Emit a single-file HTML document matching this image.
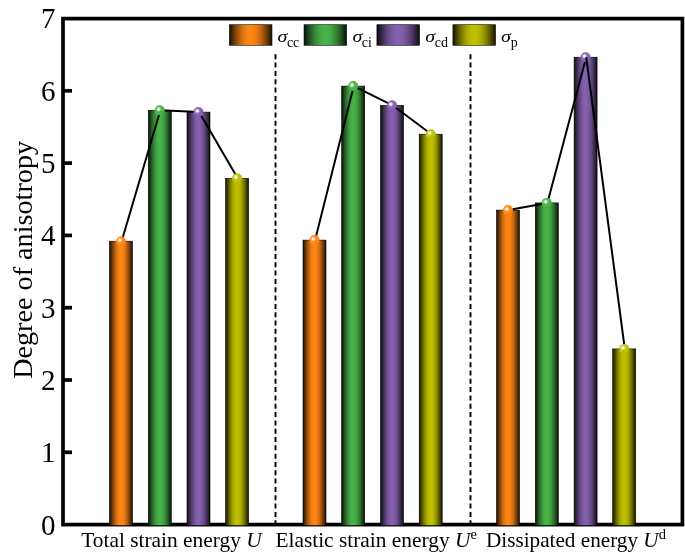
<!DOCTYPE html>
<html lang="en">
<head>
<meta charset="utf-8">
<title>Degree of anisotropy</title>
<style>
html,body{margin:0;padding:0;background:#fff;}
body{width:685px;height:559px;overflow:hidden;}
svg{display:block;}
text{font-family:"Liberation Serif","Times New Roman",serif;fill:#000;}
.tick{font-size:29px;text-anchor:end;}
.xl{font-size:21.2px;}
.yl{font-size:28.2px;text-anchor:middle;}
.lg{font-size:20px;}
.sub{font-size:14px;}
.it{font-style:italic;}
</style>
</head>
<body>
<svg width="685" height="559" viewBox="0 0 685 559">
<defs>
<linearGradient id="go" x1="0" x2="1" y1="0" y2="0"><stop offset="0.0000" stop-color="#1a0d02"/><stop offset="0.0625" stop-color="#462506"/><stop offset="0.1250" stop-color="#713c09"/><stop offset="0.1875" stop-color="#99500c"/><stop offset="0.2500" stop-color="#bc630f"/><stop offset="0.3125" stop-color="#d87211"/><stop offset="0.3750" stop-color="#ee7d13"/><stop offset="0.4375" stop-color="#fb8414"/><stop offset="0.5000" stop-color="#ff8614"/><stop offset="0.5625" stop-color="#fb8414"/><stop offset="0.6250" stop-color="#ee7d13"/><stop offset="0.6875" stop-color="#d87211"/><stop offset="0.7500" stop-color="#bc630f"/><stop offset="0.8125" stop-color="#99500c"/><stop offset="0.8750" stop-color="#713c09"/><stop offset="0.9375" stop-color="#462506"/><stop offset="1.0000" stop-color="#1a0d02"/></linearGradient>
<linearGradient id="gg" x1="0" x2="1" y1="0" y2="0"><stop offset="0.0000" stop-color="#071207"/><stop offset="0.0625" stop-color="#143114"/><stop offset="0.1250" stop-color="#205020"/><stop offset="0.1875" stop-color="#2b6b2b"/><stop offset="0.2500" stop-color="#358435"/><stop offset="0.3125" stop-color="#3d983d"/><stop offset="0.3750" stop-color="#43a743"/><stop offset="0.4375" stop-color="#47b047"/><stop offset="0.5000" stop-color="#48b348"/><stop offset="0.5625" stop-color="#47b047"/><stop offset="0.6250" stop-color="#43a743"/><stop offset="0.6875" stop-color="#3d983d"/><stop offset="0.7500" stop-color="#358435"/><stop offset="0.8125" stop-color="#2b6b2b"/><stop offset="0.8750" stop-color="#205020"/><stop offset="0.9375" stop-color="#143114"/><stop offset="1.0000" stop-color="#071207"/></linearGradient>
<linearGradient id="gp" x1="0" x2="1" y1="0" y2="0"><stop offset="0.0000" stop-color="#0d0a12"/><stop offset="0.0625" stop-color="#251b30"/><stop offset="0.1250" stop-color="#3b2b4e"/><stop offset="0.1875" stop-color="#503a69"/><stop offset="0.2500" stop-color="#624781"/><stop offset="0.3125" stop-color="#715294"/><stop offset="0.3750" stop-color="#7c5aa3"/><stop offset="0.4375" stop-color="#835fac"/><stop offset="0.5000" stop-color="#8561af"/><stop offset="0.5625" stop-color="#835fac"/><stop offset="0.6250" stop-color="#7c5aa3"/><stop offset="0.6875" stop-color="#715294"/><stop offset="0.7500" stop-color="#624781"/><stop offset="0.8125" stop-color="#503a69"/><stop offset="0.8750" stop-color="#3b2b4e"/><stop offset="0.9375" stop-color="#251b30"/><stop offset="1.0000" stop-color="#0d0a12"/></linearGradient>
<linearGradient id="gy" x1="0" x2="1" y1="0" y2="0"><stop offset="0.0000" stop-color="#131300"/><stop offset="0.0625" stop-color="#353500"/><stop offset="0.1250" stop-color="#555500"/><stop offset="0.1875" stop-color="#737300"/><stop offset="0.2500" stop-color="#8d8d00"/><stop offset="0.3125" stop-color="#a3a300"/><stop offset="0.3750" stop-color="#b3b300"/><stop offset="0.4375" stop-color="#bdbd00"/><stop offset="0.5000" stop-color="#c0c000"/><stop offset="0.5625" stop-color="#bdbd00"/><stop offset="0.6250" stop-color="#b3b300"/><stop offset="0.6875" stop-color="#a3a300"/><stop offset="0.7500" stop-color="#8d8d00"/><stop offset="0.8125" stop-color="#737300"/><stop offset="0.8750" stop-color="#555500"/><stop offset="0.9375" stop-color="#353500"/><stop offset="1.0000" stop-color="#131300"/></linearGradient>
<radialGradient id="so" cx="0.38" cy="0.39" r="0.64"><stop offset="0" stop-color="#fff"/><stop offset="0.13" stop-color="#fff9f3"/><stop offset="0.28" stop-color="#ffbc7e"/><stop offset="0.42" stop-color="#ff8d22"/><stop offset="0.8" stop-color="#ff8614"/><stop offset="1" stop-color="#eb7b12"/></radialGradient>
<radialGradient id="sg" cx="0.38" cy="0.39" r="0.64"><stop offset="0" stop-color="#fff"/><stop offset="0.13" stop-color="#f6fbf6"/><stop offset="0.28" stop-color="#9ad59a"/><stop offset="0.42" stop-color="#53b853"/><stop offset="0.8" stop-color="#48b348"/><stop offset="1" stop-color="#42a542"/></radialGradient>
<radialGradient id="sp" cx="0.38" cy="0.39" r="0.64"><stop offset="0" stop-color="#fff"/><stop offset="0.13" stop-color="#f9f7fb"/><stop offset="0.28" stop-color="#bca8d3"/><stop offset="0.42" stop-color="#8c6ab4"/><stop offset="0.8" stop-color="#8561af"/><stop offset="1" stop-color="#7a59a1"/></radialGradient>
<radialGradient id="sy" cx="0.38" cy="0.39" r="0.64"><stop offset="0" stop-color="#fff"/><stop offset="0.13" stop-color="#fcfcf2"/><stop offset="0.28" stop-color="#dcdc73"/><stop offset="0.42" stop-color="#c4c40f"/><stop offset="0.8" stop-color="#c0c000"/><stop offset="1" stop-color="#b1b100"/></radialGradient>
</defs>
<rect x="0" y="0" width="685" height="559" fill="#fff"/>
<rect x="63.0" y="18.6" width="619.4" height="506.0" fill="none" stroke="#000" stroke-width="3.7"/>
<line x1="63.0" x2="72.0" y1="452.3" y2="452.3" stroke="#000" stroke-width="3.7"/>
<line x1="63.0" x2="72.0" y1="380.0" y2="380.0" stroke="#000" stroke-width="3.7"/>
<line x1="63.0" x2="72.0" y1="307.7" y2="307.7" stroke="#000" stroke-width="3.7"/>
<line x1="63.0" x2="72.0" y1="235.4" y2="235.4" stroke="#000" stroke-width="3.7"/>
<line x1="63.0" x2="72.0" y1="163.1" y2="163.1" stroke="#000" stroke-width="3.7"/>
<line x1="63.0" x2="72.0" y1="90.8" y2="90.8" stroke="#000" stroke-width="3.7"/>
<text class="tick" x="55.5" y="534.5">0</text>
<text class="tick" x="55.5" y="462.2">1</text>
<text class="tick" x="55.5" y="389.9">2</text>
<text class="tick" x="55.5" y="317.6">3</text>
<text class="tick" x="55.5" y="245.3">4</text>
<text class="tick" x="55.5" y="173.0">5</text>
<text class="tick" x="55.5" y="100.7">6</text>
<text class="tick" x="55.5" y="28.4">7</text>
<line x1="275.5" x2="275.5" y1="54.3" y2="524.6" stroke="#000" stroke-width="1.9" stroke-dasharray="5 3.32"/>
<line x1="470.5" x2="470.5" y1="54.3" y2="524.6" stroke="#000" stroke-width="1.9" stroke-dasharray="5 3.32"/>
<rect x="109.5" y="241.2" width="23.0" height="284.4" fill="url(#go)" stroke="#000" stroke-width="0.6"/>
<rect x="148.3" y="110.3" width="23.0" height="415.3" fill="url(#gg)" stroke="#000" stroke-width="0.6"/>
<rect x="187.0" y="112.1" width="23.0" height="413.5" fill="url(#gp)" stroke="#000" stroke-width="0.6"/>
<rect x="225.6" y="178.3" width="23.0" height="347.3" fill="url(#gy)" stroke="#000" stroke-width="0.6"/>
<rect x="303.0" y="240.1" width="23.0" height="285.5" fill="url(#go)" stroke="#000" stroke-width="0.6"/>
<rect x="341.7" y="86.1" width="23.0" height="439.5" fill="url(#gg)" stroke="#000" stroke-width="0.6"/>
<rect x="380.5" y="105.3" width="23.0" height="420.3" fill="url(#gp)" stroke="#000" stroke-width="0.6"/>
<rect x="419.2" y="134.2" width="23.0" height="391.4" fill="url(#gy)" stroke="#000" stroke-width="0.6"/>
<rect x="496.5" y="210.1" width="23.0" height="315.5" fill="url(#go)" stroke="#000" stroke-width="0.6"/>
<rect x="535.3" y="202.9" width="23.0" height="322.7" fill="url(#gg)" stroke="#000" stroke-width="0.6"/>
<rect x="574.1" y="57.2" width="23.0" height="468.4" fill="url(#gp)" stroke="#000" stroke-width="0.6"/>
<rect x="612.7" y="348.9" width="23.0" height="176.7" fill="url(#gy)" stroke="#000" stroke-width="0.6"/>
<polyline points="121.6,241.2 160.4,110.3 199.1,112.1 237.7,178.3" fill="none" stroke="#000" stroke-width="2" stroke-linejoin="round"/>
<polyline points="315.1,240.1 353.8,86.1 392.6,105.3 431.3,134.2" fill="none" stroke="#000" stroke-width="2" stroke-linejoin="round"/>
<polyline points="508.6,210.1 547.4,202.9 586.2,57.2 624.8,348.9" fill="none" stroke="#000" stroke-width="2" stroke-linejoin="round"/>
<circle cx="121.0" cy="241.2" r="5" fill="url(#so)"/>
<circle cx="159.8" cy="110.3" r="5" fill="url(#sg)"/>
<circle cx="198.5" cy="112.1" r="5" fill="url(#sp)"/>
<circle cx="237.1" cy="178.3" r="5" fill="url(#sy)"/>
<circle cx="314.5" cy="240.1" r="5" fill="url(#so)"/>
<circle cx="353.2" cy="86.1" r="5" fill="url(#sg)"/>
<circle cx="392.0" cy="105.3" r="5" fill="url(#sp)"/>
<circle cx="430.7" cy="134.2" r="5" fill="url(#sy)"/>
<circle cx="508.0" cy="210.1" r="5" fill="url(#so)"/>
<circle cx="546.8" cy="202.9" r="5" fill="url(#sg)"/>
<circle cx="585.6" cy="57.2" r="5" fill="url(#sp)"/>
<circle cx="624.2" cy="348.9" r="5" fill="url(#sy)"/>
<line x1="586.2" y1="57.3" x2="587.3" y2="65.6" stroke="#000" stroke-width="2"/>
<rect x="229.3" y="24.7" width="42.7" height="20.6" fill="url(#go)" stroke="#111" stroke-width="0.6"/>
<text class="lg it" transform="translate(277.4 41.8) scale(1 0.85)">σ</text>
<text class="sub" x="286.9" y="47.0">cc</text>
<rect x="304.0" y="24.7" width="42.7" height="20.6" fill="url(#gg)" stroke="#111" stroke-width="0.6"/>
<text class="lg it" transform="translate(352.5 41.8) scale(1 0.85)">σ</text>
<text class="sub" x="361.7" y="47.0">ci</text>
<rect x="376.9" y="24.7" width="42.7" height="20.6" fill="url(#gp)" stroke="#111" stroke-width="0.6"/>
<text class="lg it" transform="translate(425.3 41.8) scale(1 0.85)">σ</text>
<text class="sub" x="434.7" y="47.0">cd</text>
<rect x="452.9" y="24.7" width="42.7" height="20.6" fill="url(#gy)" stroke="#111" stroke-width="0.6"/>
<text class="lg it" transform="translate(501.0 41.8) scale(1 0.85)">σ</text>
<text class="sub" x="510.8" y="47.0">p</text>
<text class="xl" style="font-size:21.4px" x="81.2" y="546.6">Total strain energy <tspan class="it">U</tspan></text>
<text class="xl" style="font-size:21.4px" x="275.4" y="546.6">Elastic strain energy <tspan class="it">U</tspan><tspan font-size="14.5" dy="-7.9">e</tspan></text>
<text class="xl" x="486.0" y="546.6">Dissipated energy <tspan class="it">U</tspan><tspan font-size="14.5" dy="-7.9">d</tspan></text>
<text class="yl" transform="translate(31.7 259.9) rotate(-90)">Degree of anisotropy</text>
</svg>
</body>
</html>
